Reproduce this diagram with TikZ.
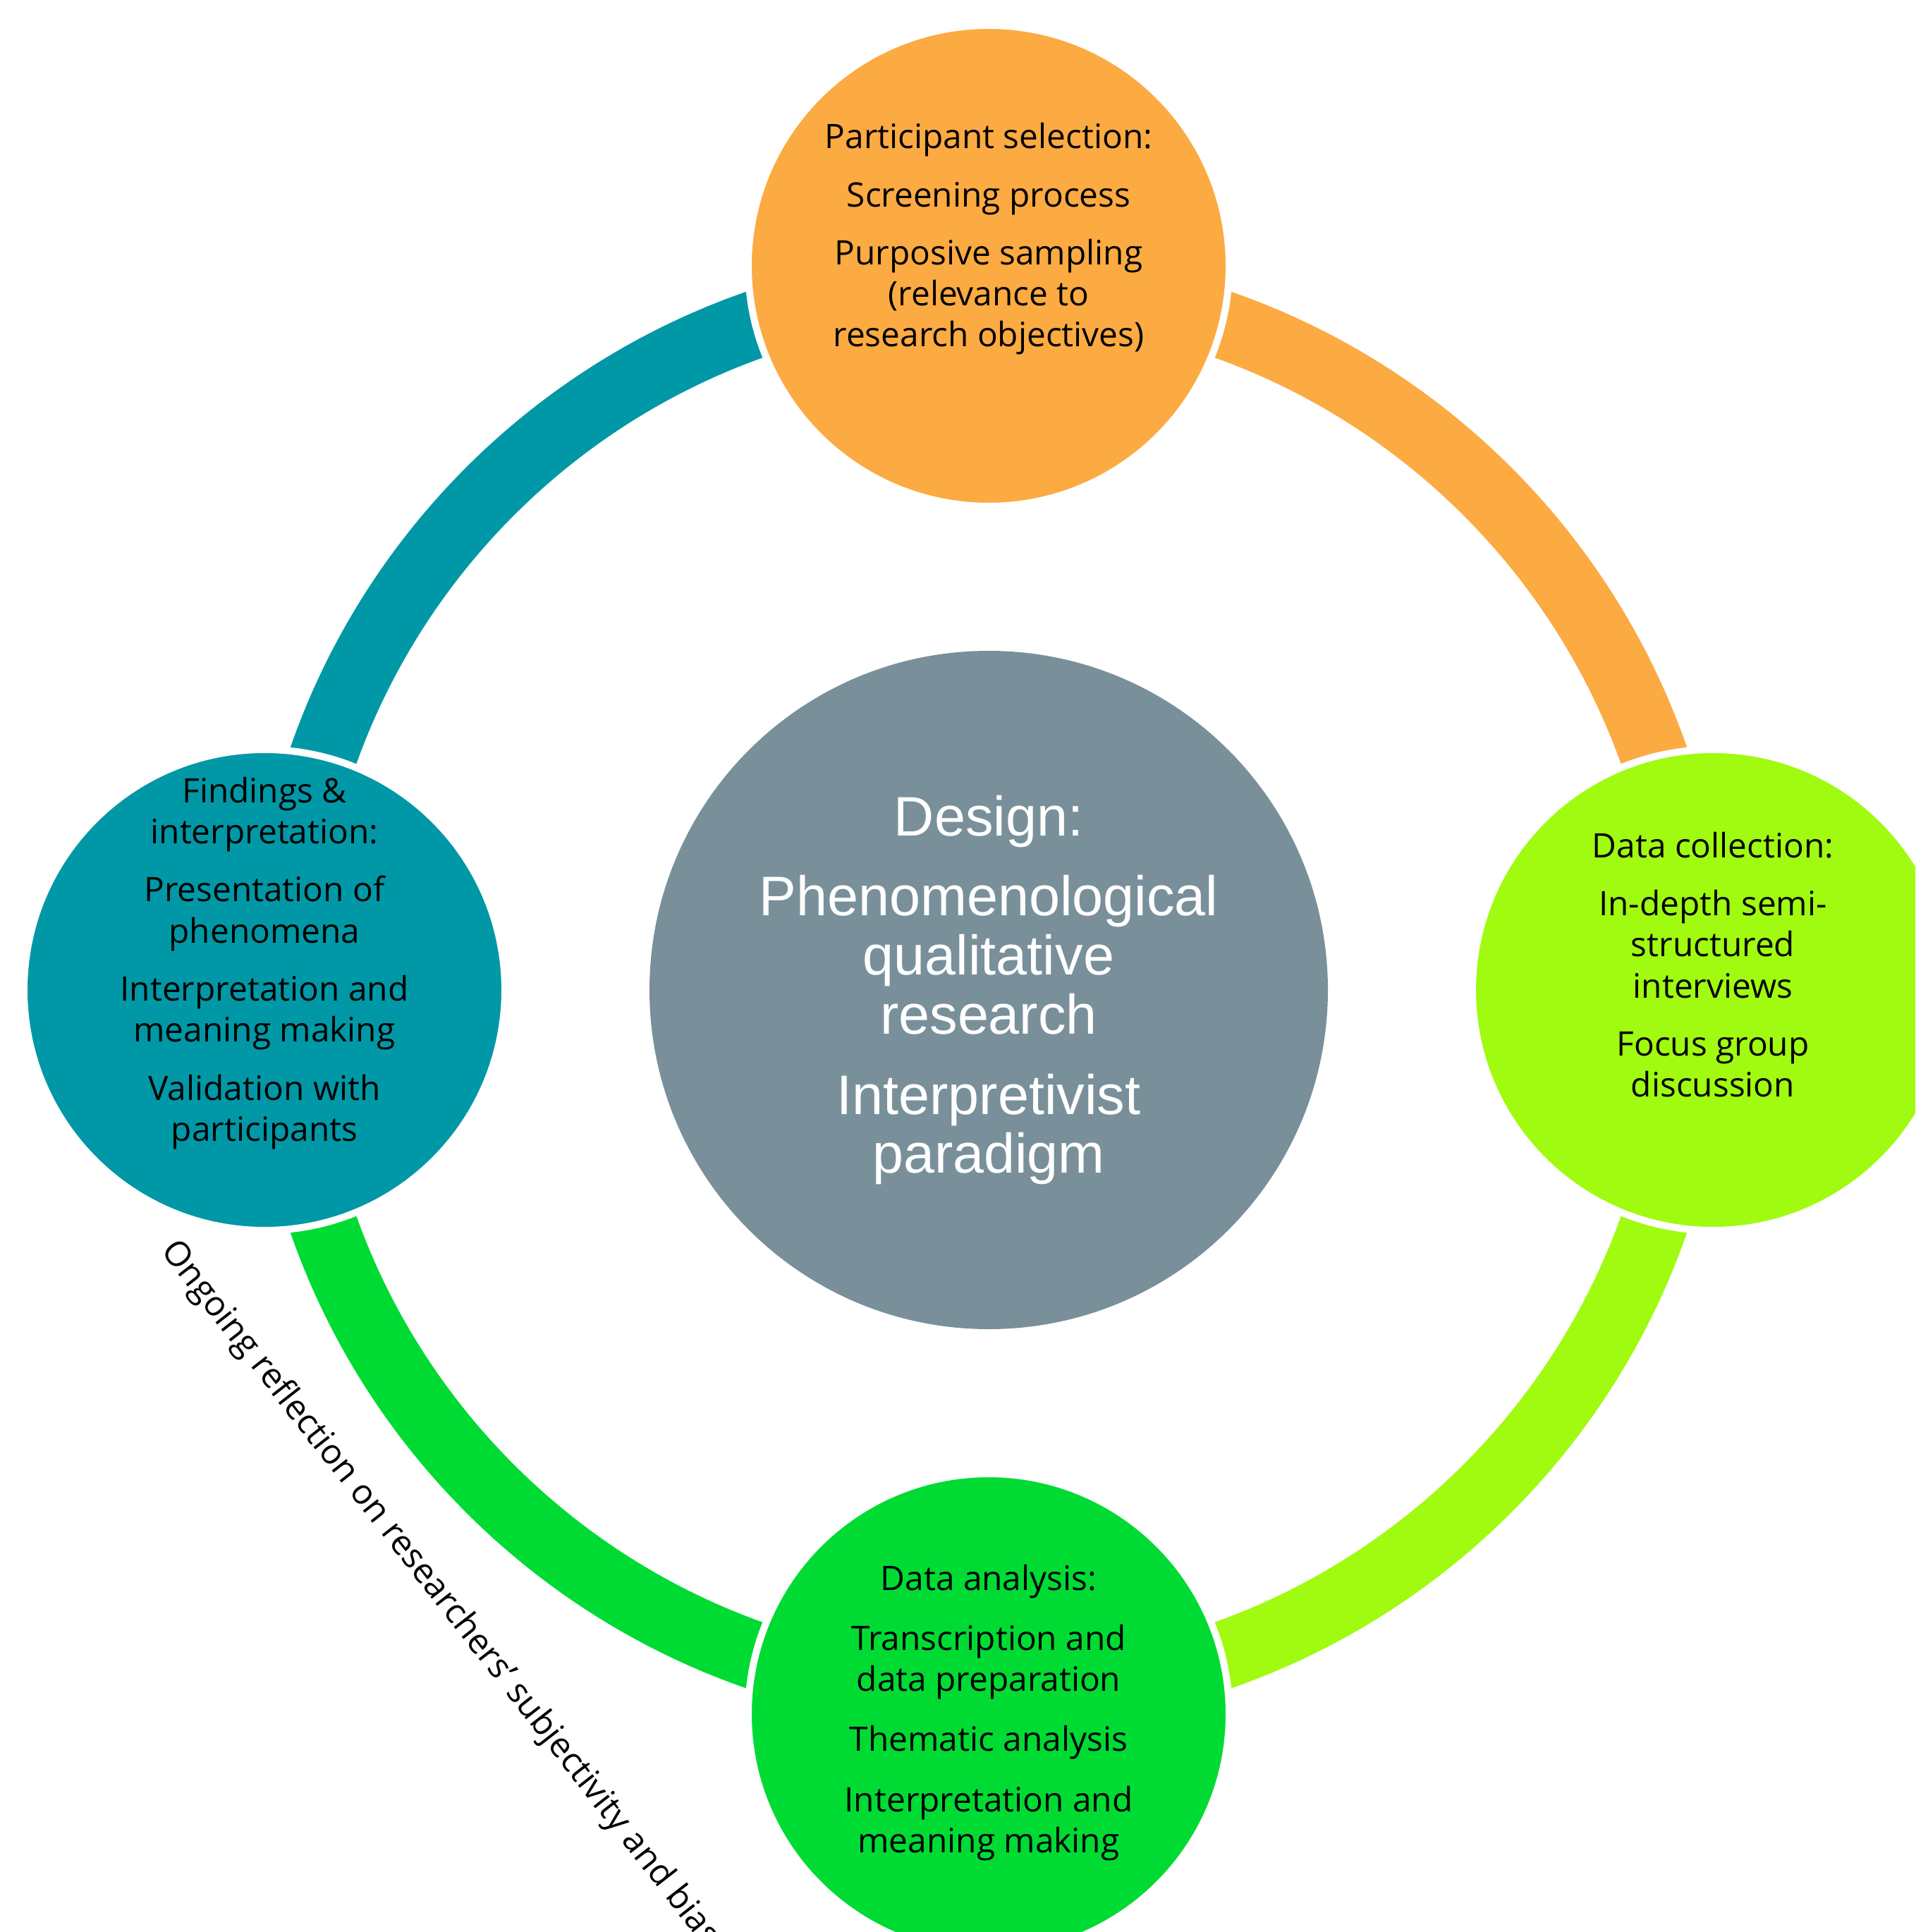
\documentclass[tikz,border=0pt]{standalone}
\usepackage{fontspec}
\setmainfont{Open Sans}
\newfontfamily\hubfont{Liberation Sans}
\usepackage{tikz}
\usetikzlibrary{calc}

\definecolor{tealC}{RGB}{0,152,166}
\definecolor{orangeC}{RGB}{252,170,66}
\definecolor{limeC}{RGB}{160,251,16}
\definecolor{greenC}{RGB}{0,219,52}
\definecolor{slateC}{RGB}{121,144,155}

\begin{document}
\begin{tikzpicture}[
    bubble/.style={circle, minimum size=6.82cm, inner sep=0pt, draw=white, line width=0.1cm},
    ring/.style={line width=0.96cm},
    steptext/.style={align=center, text=black, inner sep=0pt, font=\fontsize{13.6}{16.6}\selectfont},
    hubtext/.style={align=center, text=white, font=\hubfont\fontsize{22.5}{23.8}\selectfont}
]
    \useasboundingbox (0,0) rectangle (27.16,-27.40);
    \clip (0,0) rectangle (27.16,-27.40);

    \coordinate (hub) at (14.02,-14.04);

    % Cycle ring - one quarter per stage
    \draw[ring, orangeC] ([shift={(0:10)}]hub) arc[start angle=0, end angle=90, radius=10];
    \draw[ring, tealC] ([shift={(90:10)}]hub) arc[start angle=90, end angle=180, radius=10];
    \draw[ring, greenC] ([shift={(180:10)}]hub) arc[start angle=180, end angle=270, radius=10];
    \draw[ring, limeC] ([shift={(270:10)}]hub) arc[start angle=270, end angle=360, radius=10];

    % Design in the middle
    \node[circle, fill=slateC, minimum size=9.62cm, inner sep=0pt, hubtext] (design) at (hub)
        {Design:\\[8.6pt] Phenomenological\\ qualitative\\ research\\[8.6pt] Interpretivist\\ paradigm};

    % The four stages
    \begin{scope}[shift={(hub)}]
        \node[bubble, fill=orangeC] (select) at (90:10.27) {};
        \node[bubble, fill=limeC] (collect) at (0:10.27) {};
        \node[bubble, fill=greenC] (analyse) at (270:10.27) {};
        \node[bubble, fill=tealC] (findings) at (180:10.27) {};
    \end{scope}

    \node[steptext] (selecttxt) at ([yshift=0.38cm]select.center)
        {Participant selection:\\[6.8pt] Screening process\\[6.8pt] Purposive sampling\\ (relevance to\\ research objectives)};
    \node[steptext] (collecttxt) at ([yshift=0.36cm]collect.center)
        {Data collection:\\[6.8pt] In-depth semi-\\ structured\\ interviews\\[6.8pt] Focus group\\ discussion};
    \node[steptext] (analysetxt) at ([yshift=0.02cm]analyse.center)
        {Data analysis:\\[7.6pt] Transcription and\\ data preparation\\[7.6pt] Thematic analysis\\[7.6pt] Interpretation and\\ meaning making};
    \node[steptext] (findingstxt) at ([yshift=0.38cm]findings.center)
        {Findings \&\\ interpretation:\\[6.8pt] Presentation of\\ phenomena\\[6.8pt] Interpretation and\\ meaning making\\[6.8pt] Validation with\\ participants};

    % Reflexivity note along the lower left
    \node[rotate=-52, anchor=base west, inner sep=0pt, font=\fontsize{13.9}{16.6}\selectfont] (reflect) at (2.27,-17.74)
        {Ongoing reflection on researchers’ subjectivity and bias};
\end{tikzpicture}
\end{document}
